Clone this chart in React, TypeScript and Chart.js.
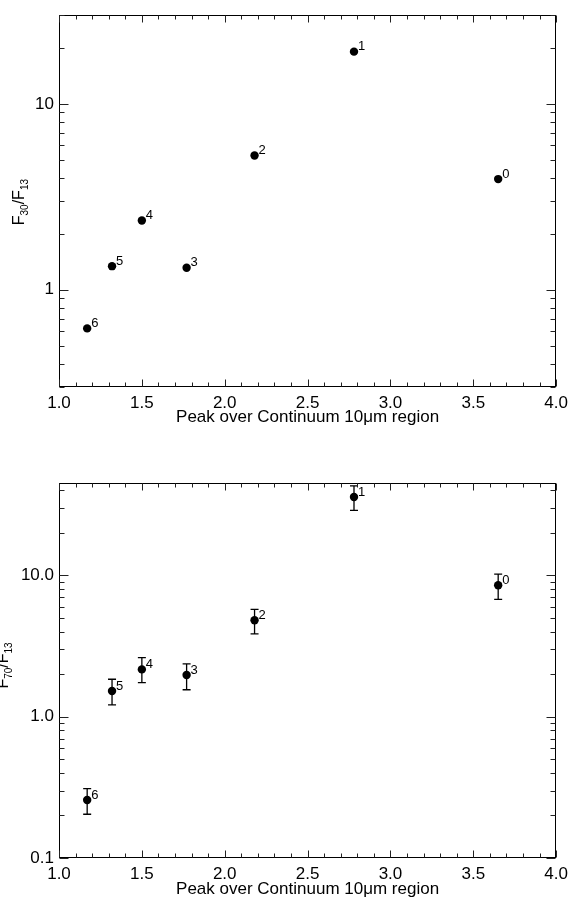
import React, { useEffect, useRef } from "react";
import { Chart, registerables } from "chart.js";

Chart.register(...registerables);

// ---------- data ----------
const pointLabels = ["0", "1", "2", "3", "4", "5", "6"];
const peakOverContinuum = [3.65, 2.78, 2.18, 1.77, 1.5, 1.32, 1.17];
const f30OverF13 = [3.94, 19.1, 5.28, 1.315, 2.36, 1.34, 0.62];
const f70OverF13 = [8.5, 35.8, 4.81, 1.97, 2.16, 1.52, 0.257];
const f70OverF13Low = [6.76, 28.8, 3.85, 1.55, 1.74, 1.21, 0.204];
const f70OverF13High = [10.2, 42.9, 5.74, 2.36, 2.62, 1.84, 0.31];

const xTickValues = [1.0, 1.5, 2.0, 2.5, 3.0, 3.5, 4.0];
const xTickLabels = ["1.0", "1.5", "2.0", "2.5", "3.0", "3.5", "4.0"];
const topYTickValues = [1, 10];
const topYTickLabels = ["1", "10"];
const bottomYTickValues = [0.1, 1, 10];
const bottomYTickLabels = ["0.1", "1.0", "10.0"];
const xTitle = "Peak over Continuum 10\u03bcm region";
const topYTitle = [
  { text: "F", sub: false },
  { text: "30", sub: true },
  { text: "/F", sub: false },
  { text: "13", sub: true },
];
const bottomYTitle = [
  { text: "F", sub: false },
  { text: "70", sub: true },
  { text: "/F", sub: false },
  { text: "13", sub: true },
];

const FONT = "'Liberation Sans', Arial, Helvetica, sans-serif";

type Seg = { text: string; sub: boolean };

function makePlugin(opts: {
  low?: number[];
  high?: number[];
  yTitle: Seg[];
  titleX: number;
  titleYOffset: number;
}) {
  return {
    id: "idlDecor",
    beforeDatasetsDraw(chart: any) {
      const { ctx, scales } = chart;
      const x = scales.x;
      const y = scales.y;
      if (opts.low && opts.high) {
        ctx.save();
        ctx.strokeStyle = "#000";
        ctx.lineWidth = 1.3;
        for (let i = 0; i < peakOverContinuum.length; i++) {
          const px = x.getPixelForValue(peakOverContinuum[i]);
          const y1 = y.getPixelForValue(opts.low[i]);
          const y2 = y.getPixelForValue(opts.high[i]);
          ctx.beginPath();
          ctx.moveTo(px, y1);
          ctx.lineTo(px, y2);
          ctx.moveTo(px - 4, y1);
          ctx.lineTo(px + 4, y1);
          ctx.moveTo(px - 4, y2);
          ctx.lineTo(px + 4, y2);
          ctx.stroke();
        }
        ctx.restore();
      }
    },
    afterDatasetsDraw(chart: any) {
      const { ctx, chartArea, scales } = chart;
      const x = scales.x;
      const y = scales.y;
      const { left, right, top, bottom } = chartArea;
      const L = Math.round(left) + 0.5;
      const R = Math.round(right) - 0.5;
      const T = Math.round(top) + 0.5;
      const B = Math.round(bottom) - 0.5;
      ctx.save();
      // frame
      ctx.strokeStyle = "#000";
      ctx.lineWidth = 1;
      ctx.strokeRect(L, T, R - L, B - T);
      // x ticks (inward, both sides)
      ctx.strokeStyle = "#222";
      ctx.beginPath();
      for (let k = 10; k <= 40; k++) {
        const v = k / 10;
        const major = k % 5 === 0;
        const len = major ? 7 : 4;
        const px = Math.round(x.getPixelForValue(v)) + 0.5;
        ctx.moveTo(px, B);
        ctx.lineTo(px, B - len);
        ctx.moveTo(px, T);
        ctx.lineTo(px, T + len);
      }
      // y ticks (log)
      const ymin = y.min;
      const ymax = y.max;
      for (let e = -3; e <= 3; e++) {
        for (let m = 1; m <= 9; m++) {
          const v = m * Math.pow(10, e);
          if (v < ymin * 0.999 || v > ymax * 1.001) continue;
          const len = m === 1 ? 9 : 5;
          const py = Math.round(y.getPixelForValue(v)) + 0.5;
          ctx.moveTo(L, py);
          ctx.lineTo(L + len, py);
          ctx.moveTo(R, py);
          ctx.lineTo(R - len, py);
        }
      }
      ctx.stroke();

      // point labels
      ctx.fillStyle = "#000";
      ctx.font = `13px ${FONT}`;
      ctx.textAlign = "left";
      ctx.textBaseline = "middle";
      const ds = chart.data.datasets[0].data;
      for (let i = 0; i < ds.length; i++) {
        const px = x.getPixelForValue(ds[i].x);
        const py = y.getPixelForValue(ds[i].y);
        ctx.fillText(pointLabels[i], px + 4, py - 5);
      }
      ctx.restore();
    },
    afterDraw(chart: any) {
      const { ctx, chartArea } = chart;
      const cy = (chartArea.top + chartArea.bottom) / 2 + opts.titleYOffset;
      ctx.save();
      ctx.translate(opts.titleX, cy);
      ctx.rotate(-Math.PI / 2);
      ctx.fillStyle = "#000";
      ctx.textBaseline = "alphabetic";
      ctx.textAlign = "left";
      const fontFor = (s: Seg) => (s.sub ? `10px ${FONT}` : `16px ${FONT}`);
      let total = 0;
      for (const s of opts.yTitle) {
        ctx.font = fontFor(s);
        total += ctx.measureText(s.text).width;
      }
      let cur = -total / 2;
      for (const s of opts.yTitle) {
        ctx.font = fontFor(s);
        ctx.fillText(s.text, cur, s.sub ? 4 : 0);
        cur += ctx.measureText(s.text).width;
      }
      ctx.restore();
    },
  };
}

function makeConfig(p: {
  yValues: number[];
  yMin: number;
  yMax: number;
  yTickValues: number[];
  yTickLabels: string[];
  padTop: number;
  xHeight: number;
  titlePadBottom: number;
  plugin: any;
}) {
  const points = peakOverContinuum.map((v, i) => ({ x: v, y: p.yValues[i] }));
  return {
    type: "scatter",
    data: {
      datasets: [
        {
          data: points,
          pointRadius: 4.2,
          pointHoverRadius: 4.2,
          pointBackgroundColor: "#000",
          pointBorderWidth: 0,
          showLine: false,
        },
      ],
    },
    options: {
      animation: false,
      responsive: false,
      events: [],
      layout: { padding: { top: p.padTop, right: 15, left: 0, bottom: 0 } },
      plugins: { legend: { display: false }, tooltip: { enabled: false } },
      scales: {
        x: {
          type: "linear",
          min: 1,
          max: 4,
          grid: { display: false, drawTicks: false },
          border: { display: false },
          afterBuildTicks: (s: any) => {
            s.ticks = xTickValues.map((v) => ({ value: v }));
          },
          afterFit: (s: any) => {
            s.height = p.xHeight;
          },
          ticks: {
            autoSkip: false,
            maxRotation: 0,
            padding: 6,
            color: "#000",
            font: { family: FONT, size: 17 },
            callback: (v: number) => {
              const i = xTickValues.findIndex((t) => Math.abs(t - v) < 1e-6);
              return i >= 0 ? xTickLabels[i] : "";
            },
          },
          title: {
            display: true,
            text: xTitle,
            color: "#000",
            font: { family: FONT, size: 17 },
            padding: { top: 0, bottom: p.titlePadBottom },
          },
        },
        y: {
          type: "logarithmic",
          min: p.yMin,
          max: p.yMax,
          grid: { display: false, drawTicks: false },
          border: { display: false },
          afterBuildTicks: (s: any) => {
            s.ticks = p.yTickValues.map((v) => ({ value: v, major: true }));
          },
          afterFit: (s: any) => {
            s.width = 59;
          },
          ticks: {
            autoSkip: false,
            padding: 5,
            color: "#000",
            font: { family: FONT, size: 17 },
            callback: (v: number) => {
              const i = p.yTickValues.findIndex((t) => Math.abs(t - v) / t < 1e-6);
              return i >= 0 ? p.yTickLabels[i] : "";
            },
          },
        },
      },
    },
    plugins: [p.plugin],
  };
}

function ChartCanvas(props: { top: number; height: number; config: () => any }) {
  const ref = useRef<HTMLCanvasElement | null>(null);
  useEffect(() => {
    if (!ref.current) return;
    const chart = new Chart(ref.current, props.config());
    return () => chart.destroy();
  }, []);
  return (
    <canvas
      ref={ref}
      width={574}
      height={props.height}
      style={{ position: "absolute", left: 0, top: props.top, width: 574, height: props.height }}
    />
  );
}

export default function App() {
  const topConfig = () =>
    makeConfig({
      yValues: f30OverF13,
      yMin: 0.3,
      yMax: 30,
      yTickValues: topYTickValues,
      yTickLabels: topYTickLabels,
      padTop: 13,
      xHeight: 53,
      titlePadBottom: 12,
      plugin: makePlugin({ yTitle: topYTitle, titleX: 24, titleYOffset: 1 }),
    });
  const bottomConfig = () =>
    makeConfig({
      yValues: f70OverF13,
      yMin: 0.1,
      yMax: 45,
      yTickValues: bottomYTickValues,
      yTickLabels: bottomYTickLabels,
      padTop: 43,
      xHeight: 43,
      titlePadBottom: 1,
      plugin: makePlugin({
        low: f70OverF13Low,
        high: f70OverF13High,
        yTitle: bottomYTitle,
        titleX: 8,
        titleYOffset: -5,
      }),
    });
  return (
    <div style={{ position: "absolute", left: 0, top: 0, width: 574, height: 901, background: "#fff" }}>
      <ChartCanvas top={0} height={440} config={topConfig} />
      <ChartCanvas top={440} height={461} config={bottomConfig} />
    </div>
  );
}
